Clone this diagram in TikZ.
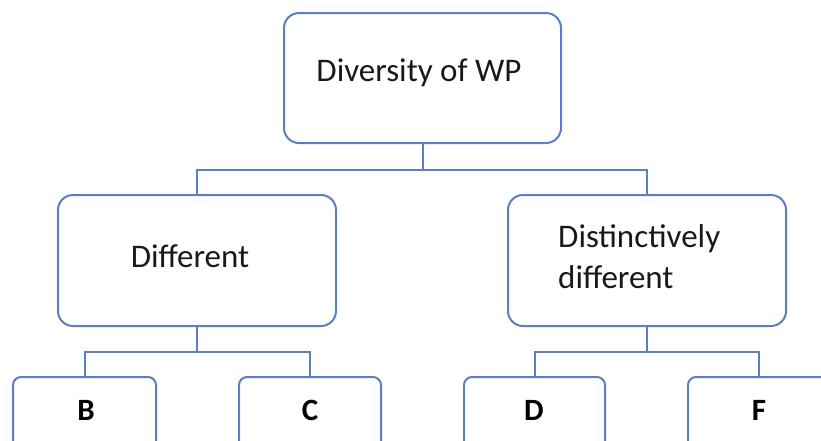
\documentclass[tikz,border=0pt]{standalone}
\usepackage{fontspec}
\setmainfont{Carlito}
\definecolor{boxblue}{HTML}{5B7FC4}
\begin{document}
\begin{tikzpicture}[x=1pt,y=-1pt,
  bigbox/.style={draw=boxblue,line width=2pt,rounded corners=15pt,inner sep=0pt},
  smallbox/.style={draw=boxblue,line width=2pt,rounded corners=8pt,inner sep=0pt},
  conn/.style={draw=boxblue,line width=2pt},
  lbl/.style={font=\fontsize{33}{40}\selectfont,text=black!90,inner sep=0pt},
  letter/.style={font=\fontsize{31}{36}\selectfont\bfseries,text=black,inner sep=0pt}]
\useasboundingbox (0,0) rectangle (821,440);
\clip (0,0) rectangle (821,440);
% boxes
\node[bigbox,minimum width=277pt,minimum height=130pt] (top) at (422.5,78) {};
\node[bigbox,minimum width=278pt,minimum height=131pt] (diff) at (197,260.5) {};
\node[bigbox,minimum width=278pt,minimum height=131pt] (dist) at (647,260.5) {};
\node[smallbox,minimum width=143pt,minimum height=100pt] (b) at (84.5,427) {};
\node[smallbox,minimum width=142pt,minimum height=100pt] (c) at (310,427) {};
\node[smallbox,minimum width=141pt,minimum height=100pt] (d) at (534.5,427) {};
\node[smallbox,minimum width=142pt,minimum height=100pt] (f) at (759,427) {};
% texts
\node[lbl,anchor=base] (ttop) at (419,81) {Diversity of WP};
\node[lbl,anchor=base] (tdiff) at (190,267) {Different};
\node[lbl,anchor=base west,align=left] (tdist1) at (558,247) {Distinctively};
\node[lbl,anchor=base west,align=left] (tdist2) at (558,288) {different};
\node[letter,anchor=base] (tb) at (86,420) {B};
\node[letter,anchor=base] (tc) at (310,420) {C};
\node[letter,anchor=base] (td) at (534,420) {D};
\node[letter,anchor=base] (tf) at (759,420) {F};
% connectors
\coordinate (j1) at (top.south |- 0,170);
\coordinate (j2) at (diff.south |- 0,352);
\coordinate (j3) at (dist.south |- 0,352);
\draw[conn] (top.south) -- (j1);
\draw[conn] (diff.north) |- (j1) -| (dist.north);
\draw[conn] (diff.south) -- (j2);
\draw[conn] (b.north) |- (j2) -| (c.north);
\draw[conn] (dist.south) -- (j3);
\draw[conn] (d.north) |- (j3) -| (f.north);
\end{tikzpicture}
\end{document}
